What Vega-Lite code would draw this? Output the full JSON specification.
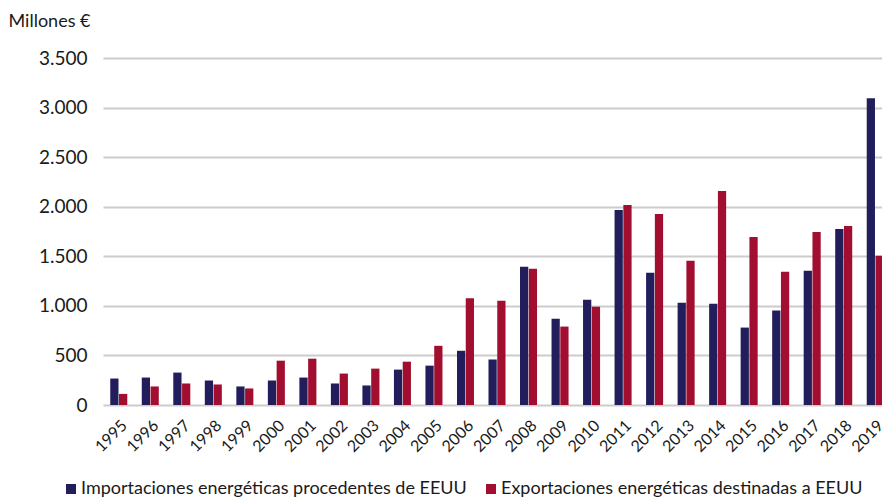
{
  "$schema": "https://vega.github.io/schema/vega-lite/v6.json",
  "width": 779,
  "height": 347,
  "autosize": "none",
  "padding": {"left": 103, "top": 58, "right": 0, "bottom": 93},
  "background": "white",
  "config": {
    "font": "Lato",
    "view": {"stroke": null},
    "axis": {"labelFont": "Lato", "titleFont": "Lato", "labelColor": "#1a1a1a", "titleColor": "#1a1a1a"},
    "legend": {"labelFont": "Lato"}
  },
  "datasets": {
    "d": [
      {"year": "1995", "serie": "Importaciones energéticas procedentes de EEUU", "value": 267},
      {"year": "1995", "serie": "Exportaciones energéticas destinadas a EEUU", "value": 112},
      {"year": "1996", "serie": "Importaciones energéticas procedentes de EEUU", "value": 277},
      {"year": "1996", "serie": "Exportaciones energéticas destinadas a EEUU", "value": 187},
      {"year": "1997", "serie": "Importaciones energéticas procedentes de EEUU", "value": 327},
      {"year": "1997", "serie": "Exportaciones energéticas destinadas a EEUU", "value": 217},
      {"year": "1998", "serie": "Importaciones energéticas procedentes de EEUU", "value": 247},
      {"year": "1998", "serie": "Exportaciones energéticas destinadas a EEUU", "value": 207},
      {"year": "1999", "serie": "Importaciones energéticas procedentes de EEUU", "value": 187},
      {"year": "1999", "serie": "Exportaciones energéticas destinadas a EEUU", "value": 167},
      {"year": "2000", "serie": "Importaciones energéticas procedentes de EEUU", "value": 247},
      {"year": "2000", "serie": "Exportaciones energéticas destinadas a EEUU", "value": 447},
      {"year": "2001", "serie": "Importaciones energéticas procedentes de EEUU", "value": 277},
      {"year": "2001", "serie": "Exportaciones energéticas destinadas a EEUU", "value": 467},
      {"year": "2002", "serie": "Importaciones energéticas procedentes de EEUU", "value": 217},
      {"year": "2002", "serie": "Exportaciones energéticas destinadas a EEUU", "value": 317},
      {"year": "2003", "serie": "Importaciones energéticas procedentes de EEUU", "value": 197},
      {"year": "2003", "serie": "Exportaciones energéticas destinadas a EEUU", "value": 367},
      {"year": "2004", "serie": "Importaciones energéticas procedentes de EEUU", "value": 357},
      {"year": "2004", "serie": "Exportaciones energéticas destinadas a EEUU", "value": 437},
      {"year": "2005", "serie": "Importaciones energéticas procedentes de EEUU", "value": 397},
      {"year": "2005", "serie": "Exportaciones energéticas destinadas a EEUU", "value": 597},
      {"year": "2006", "serie": "Importaciones energéticas procedentes de EEUU", "value": 547},
      {"year": "2006", "serie": "Exportaciones energéticas destinadas a EEUU", "value": 1077},
      {"year": "2007", "serie": "Importaciones energéticas procedentes de EEUU", "value": 459},
      {"year": "2007", "serie": "Exportaciones energéticas destinadas a EEUU", "value": 1052},
      {"year": "2008", "serie": "Importaciones energéticas procedentes de EEUU", "value": 1394},
      {"year": "2008", "serie": "Exportaciones energéticas destinadas a EEUU", "value": 1374},
      {"year": "2009", "serie": "Importaciones energéticas procedentes de EEUU", "value": 871},
      {"year": "2009", "serie": "Exportaciones energéticas destinadas a EEUU", "value": 791},
      {"year": "2010", "serie": "Importaciones energéticas procedentes de EEUU", "value": 1062},
      {"year": "2010", "serie": "Exportaciones energéticas destinadas a EEUU", "value": 992},
      {"year": "2011", "serie": "Importaciones energéticas procedentes de EEUU", "value": 1967},
      {"year": "2011", "serie": "Exportaciones energéticas destinadas a EEUU", "value": 2017},
      {"year": "2012", "serie": "Importaciones energéticas procedentes de EEUU", "value": 1333},
      {"year": "2012", "serie": "Exportaciones energéticas destinadas a EEUU", "value": 1927},
      {"year": "2013", "serie": "Importaciones energéticas procedentes de EEUU", "value": 1032},
      {"year": "2013", "serie": "Exportaciones energéticas destinadas a EEUU", "value": 1454},
      {"year": "2014", "serie": "Importaciones energéticas procedentes de EEUU", "value": 1022},
      {"year": "2014", "serie": "Exportaciones energéticas destinadas a EEUU", "value": 2158},
      {"year": "2015", "serie": "Importaciones energéticas procedentes de EEUU", "value": 781},
      {"year": "2015", "serie": "Exportaciones energéticas destinadas a EEUU", "value": 1695},
      {"year": "2016", "serie": "Importaciones energéticas procedentes de EEUU", "value": 952},
      {"year": "2016", "serie": "Exportaciones energéticas destinadas a EEUU", "value": 1344},
      {"year": "2017", "serie": "Importaciones energéticas procedentes de EEUU", "value": 1354},
      {"year": "2017", "serie": "Exportaciones energéticas destinadas a EEUU", "value": 1745},
      {"year": "2018", "serie": "Importaciones energéticas procedentes de EEUU", "value": 1776},
      {"year": "2018", "serie": "Exportaciones energéticas destinadas a EEUU", "value": 1806},
      {"year": "2019", "serie": "Importaciones energéticas procedentes de EEUU", "value": 3093},
      {"year": "2019", "serie": "Exportaciones energéticas destinadas a EEUU", "value": 1505}
    ]
  },
  "data": {"name": "d"},
  "mark": {"type": "bar", "clip": true},
  "encoding": {
    "x": {
      "field": "year",
      "type": "nominal",
      "sort": null,
      "scale": {"range": [0, 788], "paddingInner": 0.46, "paddingOuter": 0.23},
      "axis": {
        "title": null,
        "domain": false,
        "ticks": false,
        "labelAngle": -45,
        "labelFontSize": 16,
        "labelPadding": 12,
        "labelDx": -3,
        "labelBound": false,
        "labelOverlap": false,
        "grid": false
      }
    },
    "xOffset": {
      "field": "serie",
      "type": "nominal",
      "sort": ["Importaciones energéticas procedentes de EEUU", "Exportaciones energéticas destinadas a EEUU"],
      "scale": {"paddingInner": 0.06}
    },
    "y": {
      "field": "value",
      "type": "quantitative",
      "scale": {"domain": [0, 3500], "nice": false},
      "axis": {
        "title": "Millones €",
        "titleAngle": 0,
        "titleAlign": "left",
        "titleBaseline": "alphabetic",
        "titleX": -95,
        "titleY": -32,
        "titleFontSize": 18,
        "titleFontWeight": "normal",
        "values": [0, 500, 1000, 1500, 2000, 2500, 3000, 3500],
        "labelExpr": "replace(format(datum.value, ',.0f'), ',', '.')",
        "labelFontSize": 19,
        "labelPadding": 16,
        "domain": false,
        "ticks": false,
        "grid": true,
        "gridColor": "#cccccc",
        "gridWidth": 2
      }
    },
    "color": {
      "field": "serie",
      "type": "nominal",
      "scale": {
        "domain": ["Importaciones energéticas procedentes de EEUU", "Exportaciones energéticas destinadas a EEUU"],
        "range": ["#221e5c", "#a20e30"]
      },
      "legend": {
        "title": null,
        "orient": "none",
        "direction": "horizontal",
        "legendX": -41,
        "legendY": 422,
        "symbolType": "square",
        "symbolSize": 100,
        "symbolStrokeWidth": 0,
        "symbolOpacity": 1,
        "labelFontSize": 18,
        "labelColor": "#1a1a1a",
        "labelLimit": 500,
        "labelOffset": 1,
        "columnPadding": 15
      }
    }
  }
}
